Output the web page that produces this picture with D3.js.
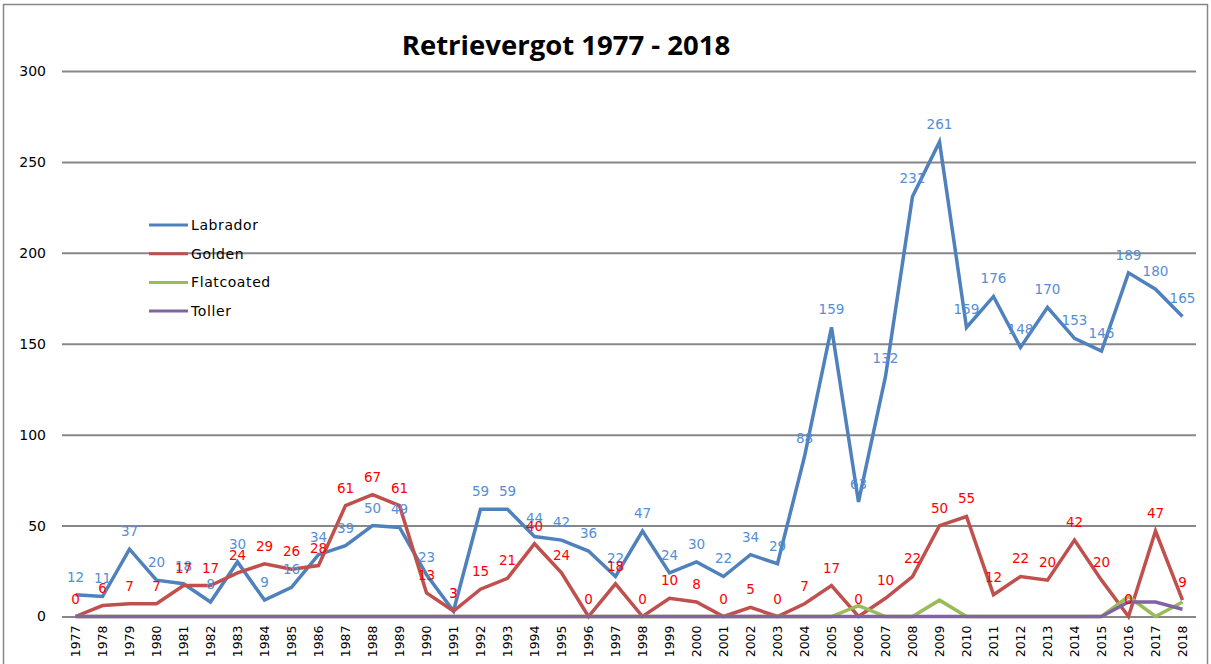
<!DOCTYPE html>
<html>
<head>
<meta charset="utf-8">
<script src="https://cdn.jsdelivr.net/npm/d3@7"></script>
<style>
  body { margin: 0; background: #fff; }
  svg { display: block; }
</style>
</head>
<body>
<svg id="chart"></svg>
<script>
// data
var years = d3.range(1977, 2019).map(String);
var labrador = [12, 11, 37, 20, 18, 8, 30, 9, 16, 34, 39, 50, 49, 23, 3, 59, 59, 44, 42, 36, 22, 47, 24, 30, 22, 34, 29, 88, 159, 63, 132, 231, 261, 159, 176, 148, 170, 153, 146, 189, 180, 165];
var golden = [0, 6, 7, 7, 17, 17, 24, 29, 26, 28, 61, 67, 61, 13, 3, 15, 21, 40, 24, 0, 18, 0, 10, 8, 0, 5, 0, 7, 17, 0, 10, 22, 50, 55, 12, 22, 20, 42, 20, 0, 47, 9];
var flatcoated = [0, 0, 0, 0, 0, 0, 0, 0, 0, 0, 0, 0, 0, 0, 0, 0, 0, 0, 0, 0, 0, 0, 0, 0, 0, 0, 0, 0, 0, 6, 0, 0, 9, 0, 0, 0, 0, 0, 0, 11, 0, 8];
var toller = [0, 0, 0, 0, 0, 0, 0, 0, 0, 0, 0, 0, 0, 0, 0, 0, 0, 0, 0, 0, 0, 0, 0, 0, 0, 0, 0, 0, 0, 0, 0, 0, 0, 0, 0, 0, 0, 0, 0, 8, 8, 4];
var yTicks = [0, 50, 100, 150, 200, 250, 300];

var series = [
  {name: "Labrador", values: labrador, color: "#4F81BD", label: "#558ED5"},
  {name: "Golden", values: golden, color: "#C0504D", label: "#FF0000"},
  {name: "Flatcoated", values: flatcoated, color: "#9BBB59", label: null},
  {name: "Toller", values: toller, color: "#8064A2", label: null}
];

var width = 1211, height = 664;
var margin = {left: 62, right: 15, top: 71, bottom: 47.5};

var svg = d3.select("#chart").attr("width", width).attr("height", height);

// outer chart frame
svg.append("rect")
   .attr("x", 3.5).attr("y", 4.5)
   .attr("width", 1204).attr("height", 700)
   .attr("fill", "none").attr("stroke", "#878787").attr("stroke-width", 1.5);

var xScale = d3.scaleBand()
               .domain(years)
               .range([margin.left, width - margin.right]);

var yScale = d3.scaleLinear()
               .domain([0, 300])
               .range([height - margin.bottom, margin.top]);

var xPos = function(i) { return xScale(years[i]) + xScale.bandwidth() / 2; };

// gridlines + y labels
var y_axis = d3.axisLeft(yScale).tickValues(yTicks)
               .tickSize(-(width - margin.right - margin.left)).tickPadding(16);
var yg = svg.append("g").attr("transform", "translate(" + margin.left + ",0)").call(y_axis);
yg.select(".domain").remove();
yg.selectAll(".tick line").attr("stroke", "#878787").attr("stroke-width", 2);
yg.selectAll(".tick text").attr("font-family", "DejaVu Sans, Verdana, sans-serif")
  .attr("font-size", 14).attr("fill", "#000");

// x labels (rotated)
var x_axis = d3.axisBottom(xScale).tickSize(0).tickPadding(0);
var xg = svg.append("g").attr("transform", "translate(0," + (height - margin.bottom) + ")").call(x_axis);
xg.select(".domain").remove();
xg.selectAll(".tick text")
  .attr("font-family", "DejaVu Sans, Verdana, sans-serif")
  .attr("font-size", 12.5).attr("fill", "#000")
  .attr("text-anchor", "end")
  .attr("transform", "translate(4.5,9) rotate(-90)")
  .attr("dy", 0).attr("x", 0).attr("y", 0);

// lines
var line = d3.line()
             .x(function(d, i) { return xPos(i); })
             .y(function(d) { return yScale(d); });

svg.selectAll("path.series")
   .data(series)
   .enter()
   .append("path")
   .classed("series", true)
   .attr("d", function(d) { return line(d.values); })
   .attr("fill", "none")
   .attr("stroke", function(d) { return d.color; })
   .attr("stroke-width", 3.5)
   .attr("stroke-linejoin", "miter");

// data labels
series.filter(function(s) { return s.label; }).forEach(function(s) {
  svg.append("g").selectAll("text")
     .data(s.values)
     .enter()
     .append("text")
     .attr("x", function(d, i) { return xPos(i); })
     .attr("y", function(d) { return yScale(d) - 13; })
     .attr("text-anchor", "middle")
     .attr("font-family", "DejaVu Sans, Verdana, sans-serif")
     .attr("font-size", 13.5)
     .attr("fill", s.label)
     .text(function(d) { return d; });
});

// legend
var legend = svg.append("g").classed("legend", true);
legend.selectAll("line")
      .data(series).enter()
      .append("line")
      .attr("x1", 149).attr("x2", 188)
      .attr("y1", function(d, i) { return 225 + i * 28.7; })
      .attr("y2", function(d, i) { return 225 + i * 28.7; })
      .attr("stroke", function(d) { return d.color; })
      .attr("stroke-width", 3);
legend.selectAll("text")
      .data(series).enter()
      .append("text")
      .attr("x", 191)
      .attr("y", function(d, i) { return 225 + i * 28.7 + 5; })
      .attr("font-family", "DejaVu Sans, Verdana, sans-serif")
      .attr("font-size", 14)
      .attr("letter-spacing", 0.6)
      .attr("fill", "#000")
      .text(function(d) { return d.name; });

// title
svg.append("text")
   .attr("x", 566).attr("y", 55)
   .attr("text-anchor", "middle")
   .attr("font-family", "Open Sans, Liberation Sans, sans-serif")
   .attr("font-weight", "bold")
   .attr("font-size", 27.5)
   .attr("fill", "#000")
   .text("Retrievergot 1977 - 2018");
</script>
</body>
</html>
